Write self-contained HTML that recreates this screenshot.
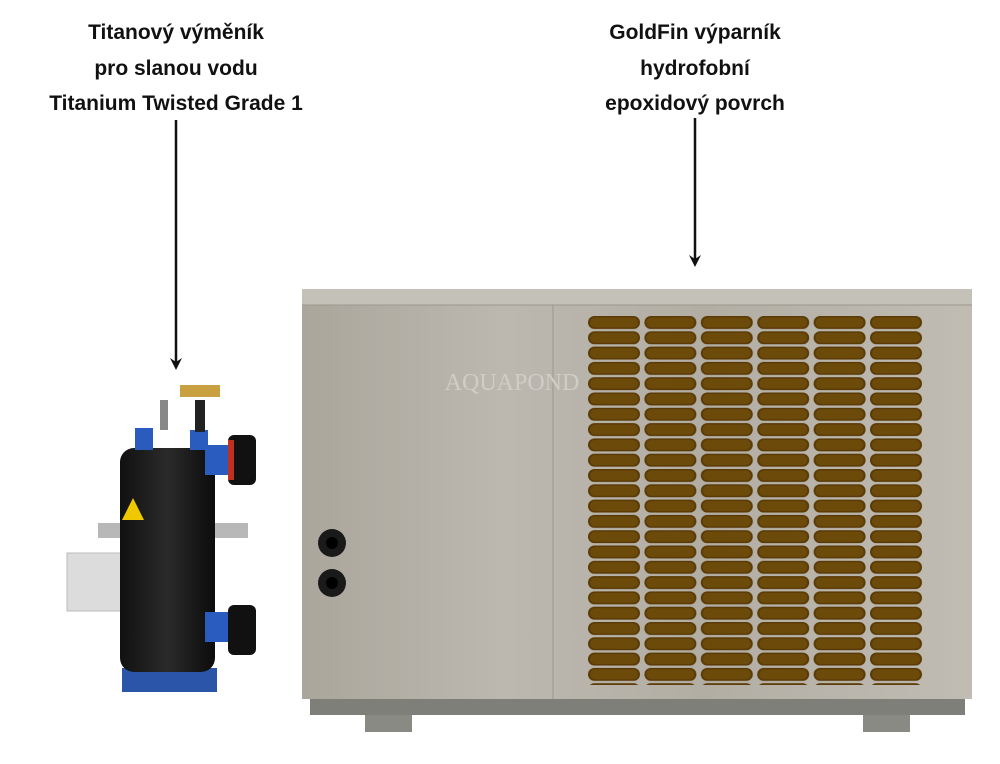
<!DOCTYPE html>
<html><head><meta charset="utf-8"><style>
html,body{margin:0;padding:0;background:#fff;}
body{width:1000px;height:764px;position:relative;overflow:hidden;font-family:"Liberation Sans",sans-serif;}
.t{position:absolute;font-weight:bold;font-size:21px;line-height:35.5px;text-align:center;color:#111;}
</style></head><body>
<div class="t" style="left:0;width:352px;top:15px;">Titanový výměník<br>pro slanou vodu<br>Titanium Twisted Grade 1</div>
<div class="t" style="left:545px;width:300px;top:15px;">GoldFin výparník<br>hydrofobní<br>epoxidový povrch</div>
<svg width="1000" height="764" style="position:absolute;left:0;top:0">
<defs>
<linearGradient id="steel" x1="0" x2="1" y1="0" y2="0">
<stop offset="0" stop-color="#aaa69c"/><stop offset="0.3" stop-color="#bcb8af"/><stop offset="0.6" stop-color="#b2aea4"/><stop offset="1" stop-color="#c0bcb3"/></linearGradient>
<linearGradient id="cyl" x1="0" x2="1"><stop offset="0" stop-color="#111"/><stop offset="0.5" stop-color="#2a2a2a"/><stop offset="1" stop-color="#0c0c0c"/></linearGradient>
<pattern id="gr" x="588" y="316" width="56.4" height="15.3" patternUnits="userSpaceOnUse">
<rect x="0" y="0" width="52" height="13" rx="6.5" fill="#5a3a06"/>
<rect x="2" y="1.5" width="48" height="10" rx="5" fill="#6c4a0a"/>
</pattern>
</defs>
<line x1="176" y1="120" x2="176" y2="364" stroke="#111" stroke-width="2.5"/>
<path d="M170 358 L176 370 L182 358 L176 362z" fill="#111"/>
<line x1="695" y1="118" x2="695" y2="261" stroke="#111" stroke-width="2.5"/>
<path d="M689 255 L695 267 L701 255 L695 259z" fill="#111"/>
<!-- heat pump -->
<rect x="365" y="708" width="47" height="24" fill="#8a8a84"/>
<rect x="863" y="708" width="47" height="24" fill="#8a8a84"/>
<rect x="310" y="698" width="655" height="17" fill="#7e7f78"/>
<rect x="302" y="289" width="670" height="410" fill="url(#steel)"/>
<rect x="302" y="289" width="670" height="16" fill="#c4c1b9"/>
<line x1="302" y1="305" x2="972" y2="305" stroke="#9c9890"/>
<line x1="553" y1="305" x2="553" y2="699" stroke="#9c9890"/>
<rect x="588" y="316" width="336" height="369" fill="url(#gr)"/>
<text x="512" y="390" font-family="Liberation Serif,serif" font-size="24" fill="#d0cdc6" text-anchor="middle">AQUAPOND</text>
<circle cx="332" cy="543" r="14" fill="#1a1a1a"/><circle cx="332" cy="543" r="6" fill="#000"/>
<circle cx="332" cy="583" r="14" fill="#1a1a1a"/><circle cx="332" cy="583" r="6" fill="#000"/>
<!-- exchanger -->
<rect x="98" y="523" width="150" height="15" fill="#b8b8b8"/>
<rect x="67" y="553" width="56" height="58" fill="#dcdcdc" stroke="#bbb"/>
<rect x="122" y="668" width="95" height="24" fill="#2a55a8"/>
<rect x="120" y="448" width="95" height="224" rx="14" fill="url(#cyl)"/>
<rect x="135" y="428" width="18" height="22" fill="#2a5cc0"/>
<rect x="190" y="430" width="18" height="20" fill="#2a5cc0"/>
<rect x="160" y="400" width="8" height="30" fill="#888"/>
<rect x="195" y="400" width="10" height="32" fill="#222"/>
<rect x="180" y="385" width="40" height="12" fill="#c9a040"/>
<rect x="205" y="445" width="30" height="30" fill="#2a5cc0"/>
<rect x="228" y="435" width="28" height="50" rx="6" fill="#111"/>
<rect x="228" y="440" width="6" height="40" fill="#c03020"/>
<rect x="205" y="612" width="30" height="30" fill="#2a5cc0"/>
<rect x="228" y="605" width="28" height="50" rx="6" fill="#111"/>
<path d="M122 520 L133 498 L144 520z" fill="#f0c800"/>
</svg>
</body></html>
